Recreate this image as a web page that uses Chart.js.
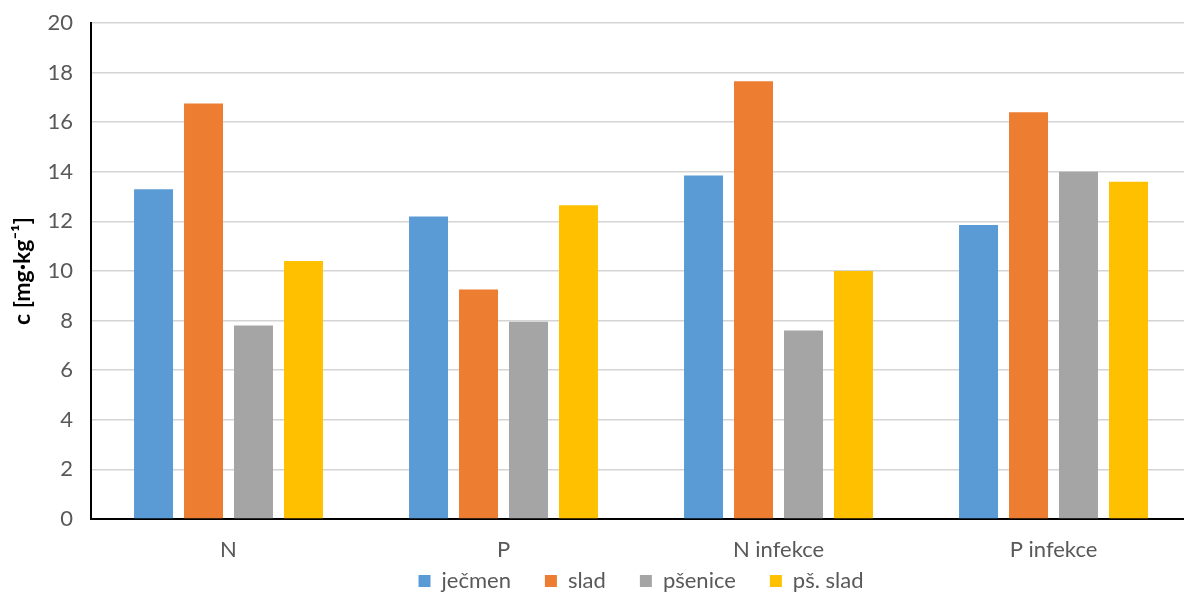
<!DOCTYPE html>
<html>
<head>
<meta charset="utf-8">
<script src="https://cdn.jsdelivr.net/npm/chart.js@4/dist/chart.umd.min.js"></script>
<style>
  html, body { margin: 0; padding: 0; background: #fff; overflow: hidden; }
  #wrap { width: 1200px; height: 592px; position: relative; }
</style>
</head>
<body>
<div id="wrap"><canvas id="myChart"></canvas></div>
<script>
// sample groups and measured concentrations (mg/kg)
const categories = ["N", "P", "N infekce", "P infekce"];
const jecmen = [13.3, 12.2, 13.85, 11.85];
const slad = [16.75, 9.25, 17.65, 16.4];
const psenice = [7.8, 7.95, 7.6, 14.0];
const psSlad = [10.4, 12.65, 10.0, 13.6];
const yTicks = [0, 2, 4, 6, 8, 10, 12, 14, 16, 18, 20];

const seriesNames = ["ječmen", "slad", "pšenice", "pš. slad"];
const seriesColors = ["#5b9bd5", "#ed7d31", "#a5a5a5", "#ffc000"];
const seriesValues = [jecmen, slad, psenice, psSlad];

const FONT = "Lato, 'Liberation Sans', sans-serif";
const TEXT_GREY = "#595959";

// legend uses wide item padding; keep its box short and pull it up
// so the category labels still fit between the axis and the legend
const legendHeightFix = {
  id: "legendHeightFix",
  beforeLayout(chart) {
    const legend = chart.legend;
    if (!legend || legend._fixed) return;
    const origFit = legend.fit;
    legend.fit = function () {
      origFit.call(this);
      this.height = 28;
    };
    legend._fixed = true;
  },
  afterLayout(chart) {
    const legend = chart.legend;
    if (!legend) return;
    legend.top = chart.height - 56;
    legend.bottom = chart.height;
  },
};

const ctx = document.getElementById("myChart");

window.dashboardChart = new Chart(ctx, {
  type: "bar",
  data: {
    labels: categories,
    datasets: seriesNames.map((name, i) => ({
      label: name,
      data: seriesValues[i],
      backgroundColor: seriesColors[i],
      borderWidth: 0,
      barPercentage: 0.78,
      categoryPercentage: 0.727,
    })),
  },
  options: {
    responsive: true,
    maintainAspectRatio: false,
    animation: false,
    devicePixelRatio: 1,
    layout: {
      padding: { top: 23, right: 9, left: 0, bottom: 0 },
    },
    scales: {
      x: {
        grid: { display: false, drawTicks: false },
        border: { color: "#000", width: 2 },
        ticks: {
          color: TEXT_GREY,
          padding: 18,
          autoSkip: false,
          maxRotation: 0,
          font: { family: FONT, size: 22 },
        },
        afterFit(scale) {
          scale.height = 45;
        },
      },
      y: {
        min: 0,
        max: 20,
        afterBuildTicks(scale) {
          scale.ticks = yTicks.map((v) => ({ value: v }));
        },
        // invisible tick marks give the label gap without padding the top
        grid: {
          color: "#d4d4d4",
          lineWidth: 1.5,
          drawTicks: true,
          tickLength: 12,
          tickColor: "rgba(0,0,0,0)",
        },
        border: { color: "#000", width: 2 },
        ticks: {
          color: TEXT_GREY,
          padding: 6,
          font: { family: FONT, size: 22 },
        },
        title: {
          display: true,
          text: "c [mg·kg⁻¹]",
          color: "#000",
          padding: { top: 9, bottom: 4 },
          font: { family: FONT, size: 23, weight: "bold" },
        },
        afterFit(scale) {
          scale.width = 91;
        },
      },
    },
    plugins: {
      legend: {
        display: true,
        position: "bottom",
        fullSize: false,
        labels: {
          boxWidth: 12,
          boxHeight: 12,
          padding: 34,
          color: TEXT_GREY,
          font: { family: FONT, size: 22 },
        },
      },
      tooltip: { enabled: false },
      title: { display: false },
    },
  },
  plugins: [legendHeightFix],
});
</script>
</body>
</html>
